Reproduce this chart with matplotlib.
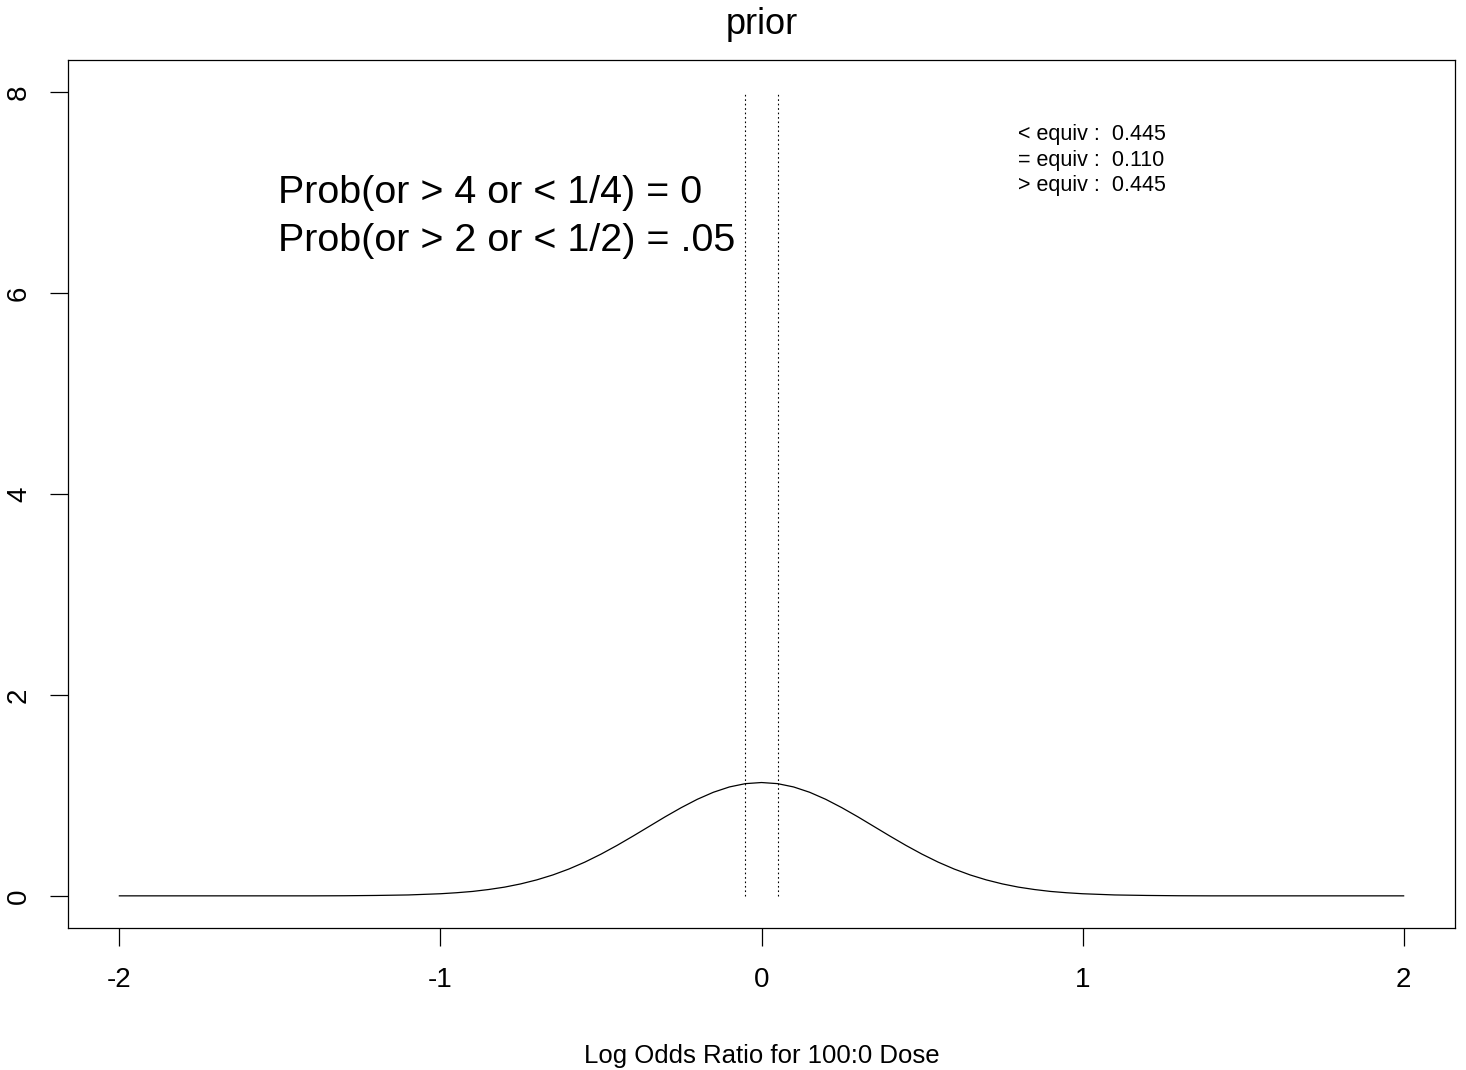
import matplotlib
matplotlib.use('Agg')
from matplotlib import pyplot as plt

# prior density for the log odds ratio
log_or = [-2.0, -1.6, -1.4, -1.3, -1.2, -1.1, -1.0, -0.95, -0.9, -0.85, -0.8,
          -0.75, -0.7, -0.65, -0.6, -0.55, -0.5, -0.45, -0.4, -0.35, -0.3,
          -0.25, -0.2, -0.15, -0.1, -0.05, 0.0, 0.05, 0.1, 0.15, 0.2, 0.25,
          0.3, 0.35, 0.4, 0.45, 0.5, 0.55, 0.6, 0.65, 0.7, 0.75, 0.8, 0.85,
          0.9, 0.95, 1.0, 1.1, 1.2, 1.3, 1.4, 1.6, 2.0]
density = [0.0, 0.0, 0.0, 0.001, 0.004, 0.009, 0.021, 0.031, 0.044, 0.063,
           0.087, 0.119, 0.159, 0.208, 0.267, 0.336, 0.415, 0.502, 0.595,
           0.691, 0.787, 0.878, 0.961, 1.031, 1.084, 1.117, 1.128, 1.117,
           1.084, 1.031, 0.961, 0.878, 0.787, 0.691, 0.595, 0.502, 0.415,
           0.336, 0.267, 0.208, 0.159, 0.119, 0.087, 0.063, 0.044, 0.031,
           0.021, 0.009, 0.004, 0.001, 0.0, 0.0, 0.0]

equiv_bounds = [-0.05, 0.05]
equiv_labels = ['< equiv :  0.445', '= equiv :  0.110', '> equiv :  0.445']
prob_labels = ['Prob(or > 4 or < 1/4) = 0', 'Prob(or > 2 or < 1/2) = .05']

x_ticks = [-2, -1, 0, 1, 2]
y_ticks = [0, 2, 4, 6, 8]

plt.rcParams['font.family'] = ['Liberation Sans', 'DejaVu Sans']

fig = plt.figure(figsize=(14.66, 10.70), dpi=100)
ax = fig.add_axes([68 / 1466, 142 / 1070, 1387 / 1466, 868 / 1070])

ax.plot(log_or, density, color='black', linewidth=0.9)
for b in equiv_bounds:
    ax.plot([b, b], [0, 8], color='black', linewidth=0.8,
            linestyle=(0, (1.5, 2.5)))

for i, lab in enumerate(equiv_labels):
    ax.text(0.8, 7.522 - i * 0.253, lab, fontsize=15.5, va='baseline',
            ha='left')
for i, lab in enumerate(prob_labels):
    ax.text(-1.505, 6.896 - i * 0.478, lab, fontsize=28.4, va='baseline',
            ha='left')

ax.set_xlim(-2.16, 2.16)
ax.set_ylim(-0.32, 8.32)
ax.set_xticks(x_ticks)
ax.set_xticklabels([str(t) for t in x_ticks])
ax.set_yticks(y_ticks)
ax.set_yticklabels([str(t) for t in y_ticks], rotation=90, va='center')
ax.tick_params(axis='both', direction='out', length=13, width=0.9,
               labelsize=20, pad=15)
ax.tick_params(axis='y', pad=13)
for s in ax.spines.values():
    s.set_linewidth(0.9)

ax.set_title('prior', fontsize=26, pad=19)
ax.set_xlabel('Log Odds Ratio for 100:0 Dose', fontsize=18.5, labelpad=37)

fig.savefig('out.png', dpi=100)
